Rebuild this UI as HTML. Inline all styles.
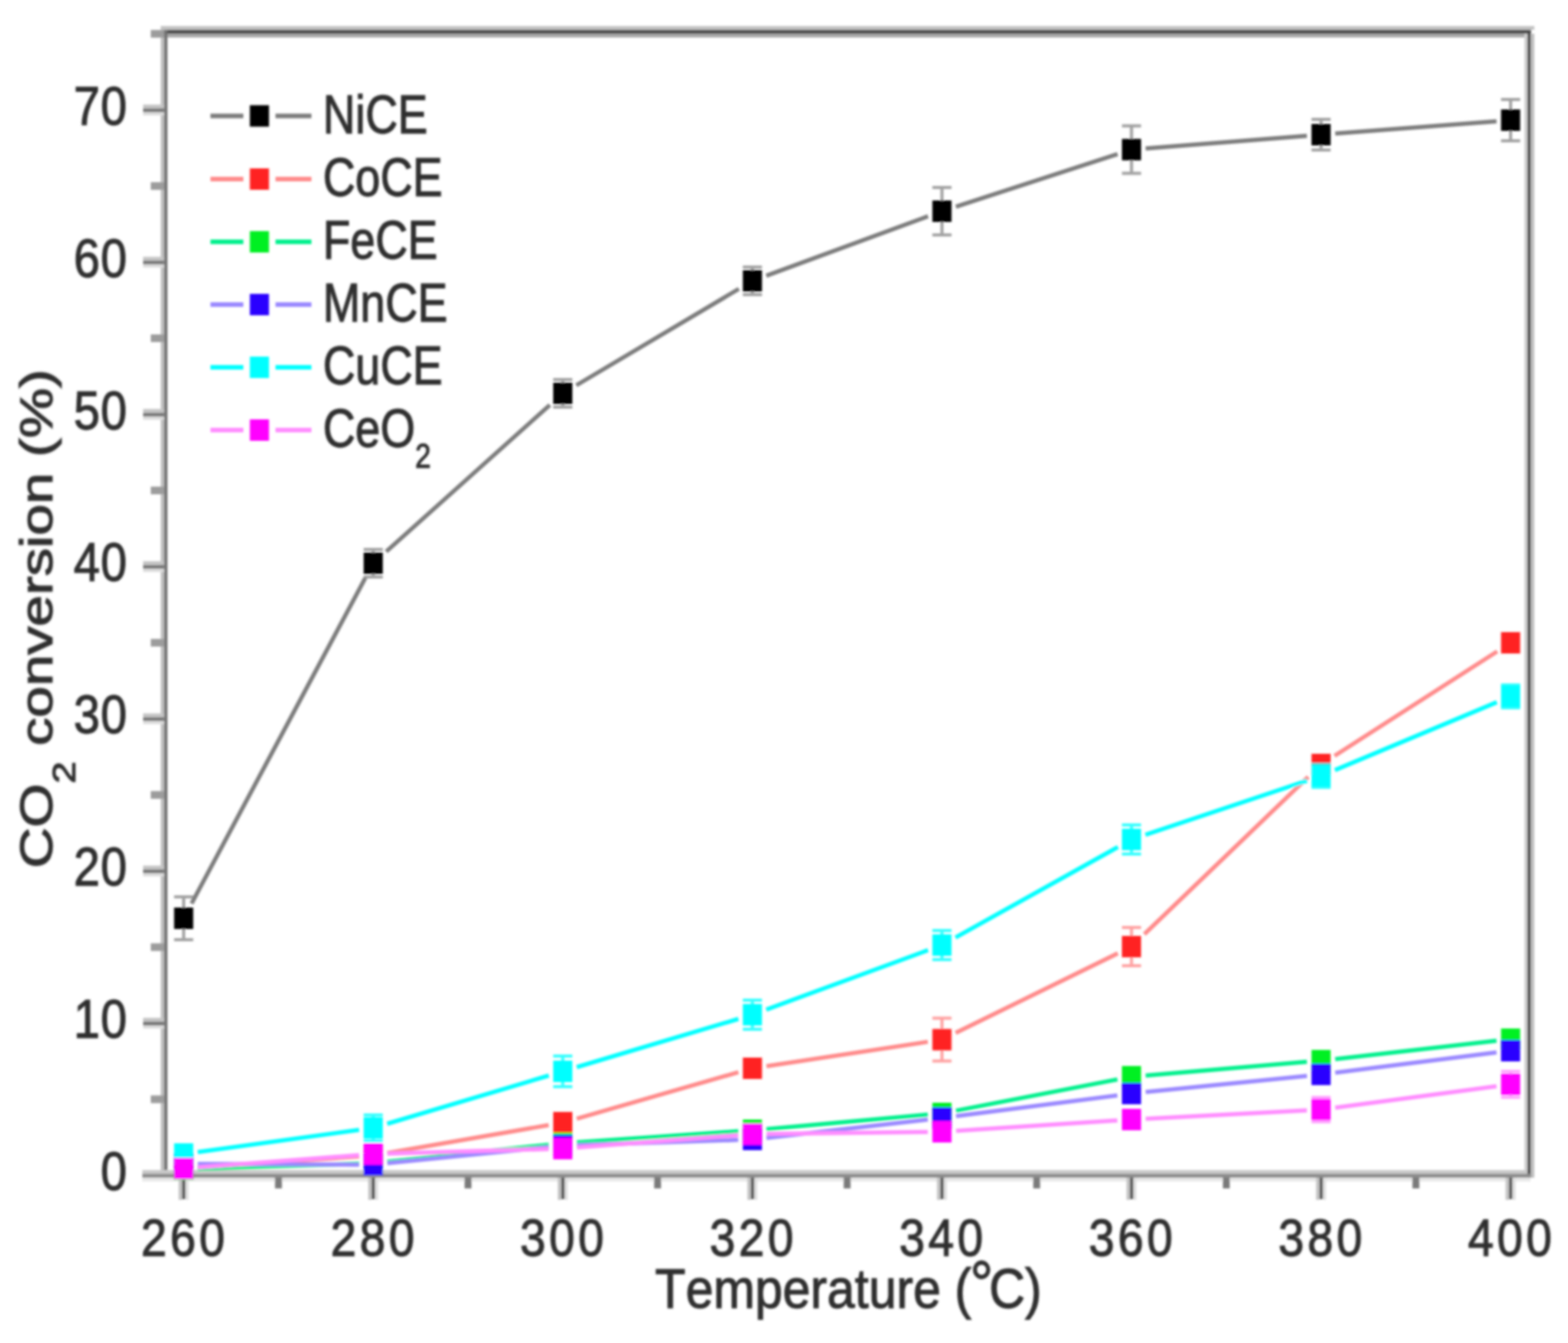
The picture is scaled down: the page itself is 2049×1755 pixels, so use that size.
<!DOCTYPE html>
<html><head><meta charset="utf-8"><title>CO2 conversion vs temperature</title>
<style>
html,body{margin:0;padding:0;background:#fff;}
body{width:2049px;height:1755px;overflow:hidden;}
svg{display:block;}
text{font-family:"Liberation Sans", Arial, Helvetica, sans-serif;fill:#2e2e2e;stroke:#2e2e2e;stroke-width:1.3px;font-kerning:none;}
</style></head><body>
<svg width="2049" height="1755" viewBox="0 0 2049 1755">
<defs><filter id="soft" x="-2%" y="-2%" width="104%" height="104%"><feGaussianBlur stdDeviation="1.5"/></filter></defs>
<rect x="0" y="0" width="2049" height="1755" fill="#ffffff"/>
<g filter="url(#soft)">
<rect x="210.0" y="34.0" width="1795.0" height="5.0" fill="#c2c2c2"/>
<rect x="210.0" y="39.0" width="1790.5" height="5.0" fill="#4a4a4a"/>
<rect x="214.0" y="44.0" width="1782.0" height="5.0" fill="#a8a8a8"/>
<rect x="1992.0" y="44.0" width="4.0" height="1490.0" fill="#d0d0d0"/>
<rect x="1996.0" y="39.0" width="4.5" height="1500.0" fill="#4a4a4a"/>
<rect x="2000.5" y="44.0" width="4.5" height="1495.0" fill="#c0c0c0"/>
<rect x="210.0" y="39.0" width="4.4" height="1495.0" fill="#c0c0c0"/>
<rect x="214.4" y="39.0" width="4.4" height="1500.0" fill="#707070"/>
<rect x="186.0" y="1529.0" width="1810.0" height="5.0" fill="#c8c8c8"/>
<rect x="186.0" y="1534.0" width="1814.5" height="5.0" fill="#8c8c8c"/>
<rect x="186.0" y="1539.0" width="1814.0" height="5.0" fill="#e8e8e8"/>
<rect x="197.0" y="1431.5" width="17.4" height="10.0" fill="#9c9c9c"/>
<rect x="187.0" y="1330.1" width="27.4" height="5.0" fill="#c4c4c4"/>
<rect x="187.0" y="1335.1" width="27.4" height="5.0" fill="#767676"/>
<rect x="187.0" y="1340.1" width="27.4" height="4.0" fill="#dcdcdc"/>
<rect x="197.0" y="1232.7" width="17.4" height="10.0" fill="#9c9c9c"/>
<rect x="187.0" y="1131.2" width="27.4" height="5.0" fill="#c4c4c4"/>
<rect x="187.0" y="1136.2" width="27.4" height="5.0" fill="#767676"/>
<rect x="187.0" y="1141.2" width="27.4" height="4.0" fill="#dcdcdc"/>
<rect x="197.0" y="1033.8" width="17.4" height="10.0" fill="#9c9c9c"/>
<rect x="187.0" y="932.3" width="27.4" height="5.0" fill="#c4c4c4"/>
<rect x="187.0" y="937.3" width="27.4" height="5.0" fill="#767676"/>
<rect x="187.0" y="942.3" width="27.4" height="4.0" fill="#dcdcdc"/>
<rect x="197.0" y="834.9" width="17.4" height="10.0" fill="#9c9c9c"/>
<rect x="187.0" y="733.4" width="27.4" height="5.0" fill="#c4c4c4"/>
<rect x="187.0" y="738.4" width="27.4" height="5.0" fill="#767676"/>
<rect x="187.0" y="743.4" width="27.4" height="4.0" fill="#dcdcdc"/>
<rect x="197.0" y="635.9" width="17.4" height="10.0" fill="#9c9c9c"/>
<rect x="187.0" y="534.5" width="27.4" height="5.0" fill="#c4c4c4"/>
<rect x="187.0" y="539.5" width="27.4" height="5.0" fill="#767676"/>
<rect x="187.0" y="544.5" width="27.4" height="4.0" fill="#dcdcdc"/>
<rect x="197.0" y="437.0" width="17.4" height="10.0" fill="#9c9c9c"/>
<rect x="187.0" y="335.6" width="27.4" height="5.0" fill="#c4c4c4"/>
<rect x="187.0" y="340.6" width="27.4" height="5.0" fill="#767676"/>
<rect x="187.0" y="345.6" width="27.4" height="4.0" fill="#dcdcdc"/>
<rect x="197.0" y="238.1" width="17.4" height="10.0" fill="#9c9c9c"/>
<rect x="187.0" y="136.7" width="27.4" height="5.0" fill="#c4c4c4"/>
<rect x="187.0" y="141.7" width="27.4" height="5.0" fill="#767676"/>
<rect x="187.0" y="146.7" width="27.4" height="4.0" fill="#dcdcdc"/>
<rect x="197.0" y="39.2" width="17.4" height="10.0" fill="#9c9c9c"/>
<rect x="233.5" y="1539.0" width="4.5" height="29.0" fill="#c4c4c4"/>
<rect x="238.0" y="1539.0" width="4.5" height="28.0" fill="#555555"/>
<rect x="242.5" y="1539.0" width="4.0" height="29.0" fill="#e0e0e0"/>
<rect x="359.4" y="1539.0" width="9.0" height="14.0" fill="#7a7a7a"/>
<rect x="481.2" y="1539.0" width="4.5" height="29.0" fill="#c4c4c4"/>
<rect x="485.7" y="1539.0" width="4.5" height="28.0" fill="#555555"/>
<rect x="490.2" y="1539.0" width="4.0" height="29.0" fill="#e0e0e0"/>
<rect x="607.1" y="1539.0" width="9.0" height="14.0" fill="#7a7a7a"/>
<rect x="728.9" y="1539.0" width="4.5" height="29.0" fill="#c4c4c4"/>
<rect x="733.4" y="1539.0" width="4.5" height="28.0" fill="#555555"/>
<rect x="737.9" y="1539.0" width="4.0" height="29.0" fill="#e0e0e0"/>
<rect x="854.8" y="1539.0" width="9.0" height="14.0" fill="#7a7a7a"/>
<rect x="976.7" y="1539.0" width="4.5" height="29.0" fill="#c4c4c4"/>
<rect x="981.2" y="1539.0" width="4.5" height="28.0" fill="#555555"/>
<rect x="985.7" y="1539.0" width="4.0" height="29.0" fill="#e0e0e0"/>
<rect x="1102.5" y="1539.0" width="9.0" height="14.0" fill="#7a7a7a"/>
<rect x="1224.4" y="1539.0" width="4.5" height="29.0" fill="#c4c4c4"/>
<rect x="1228.9" y="1539.0" width="4.5" height="28.0" fill="#555555"/>
<rect x="1233.4" y="1539.0" width="4.0" height="29.0" fill="#e0e0e0"/>
<rect x="1350.2" y="1539.0" width="9.0" height="14.0" fill="#7a7a7a"/>
<rect x="1472.1" y="1539.0" width="4.5" height="29.0" fill="#c4c4c4"/>
<rect x="1476.6" y="1539.0" width="4.5" height="28.0" fill="#555555"/>
<rect x="1481.1" y="1539.0" width="4.0" height="29.0" fill="#e0e0e0"/>
<rect x="1598.0" y="1539.0" width="9.0" height="14.0" fill="#7a7a7a"/>
<rect x="1719.8" y="1539.0" width="4.5" height="29.0" fill="#c4c4c4"/>
<rect x="1724.3" y="1539.0" width="4.5" height="28.0" fill="#555555"/>
<rect x="1728.8" y="1539.0" width="4.0" height="29.0" fill="#e0e0e0"/>
<rect x="1845.7" y="1539.0" width="9.0" height="14.0" fill="#7a7a7a"/>
<rect x="1967.5" y="1539.0" width="4.5" height="29.0" fill="#c4c4c4"/>
<rect x="1972.0" y="1539.0" width="4.5" height="28.0" fill="#555555"/>
<rect x="1976.5" y="1539.0" width="4.0" height="29.0" fill="#e0e0e0"/>
<path d="M250.3 1180.7L477.4 755.3M504.7 720.8L718.5 529.2M753.1 503.5L965.5 377.5M1001.3 360.3L1212.7 282.7M1249.1 270.1L1460.4 201.4M1497.1 194.0L1707.8 177.5M1744.8 174.6L1955.6 158.4" fill="none" stroke="#7c7c7c" stroke-width="5.5" stroke-linecap="butt"/>
<path d="M258.5 1525.7L469.2 1511.3M506.1 1506.8L717.0 1470.2M753.7 1461.8L964.9 1401.2M1001.6 1393.2L1212.4 1361.4M1248.8 1349.8L1460.7 1245.8M1495.4 1220.8L1709.5 1015.2M1743.9 987.7L1956.5 851.3" fill="none" stroke="#ff8a8a" stroke-width="5.5" stroke-linecap="butt"/>
<path d="M258.5 1527.4L469.2 1520.6M506.2 1518.1L717.0 1495.9M753.9 1492.7L964.7 1478.3M1001.6 1475.4L1212.4 1456.6M1249.3 1451.4L1460.2 1410.6M1497.1 1405.4L1707.8 1387.6M1744.8 1383.9L1955.6 1360.1" fill="none" stroke="#00f08c" stroke-width="5.5" stroke-linecap="butt"/>
<path d="M258.5 1521.1L469.2 1521.9M506.2 1520.1L717.0 1498.9M753.9 1496.4L964.7 1489.6M1001.6 1486.9L1212.4 1463.1M1249.3 1458.6L1460.1 1431.4M1497.1 1427.1L1707.9 1405.9M1744.8 1401.7L1955.6 1375.3" fill="none" stroke="#9a88ff" stroke-width="5.5" stroke-linecap="butt"/>
<path d="M258.4 1505.5L469.3 1476.5M506.0 1468.5L717.2 1405.5M753.7 1394.5L964.9 1331.5M1001.3 1319.3L1212.7 1241.7M1248.6 1225.1L1460.9 1106.9M1496.8 1090.9L1708.1 1020.1M1744.4 1006.4L1956.0 917.6" fill="none" stroke="#00ffff" stroke-width="5.5" stroke-linecap="butt"/>
<path d="M258.5 1525.6L469.2 1509.4M506.2 1507.5L716.9 1501.5M753.9 1499.6L964.7 1483.4M1001.7 1481.8L1212.4 1479.2M1249.4 1477.8L1460.1 1464.2M1497.1 1462.0L1707.8 1451.0M1744.8 1447.5L1955.6 1419.5" fill="none" stroke="#ff8cff" stroke-width="5.5" stroke-linecap="butt"/>
<path d="M240.0 1172.0V1186.0M240.0 1214.0V1228.0M227.5 1172.0H252.5M227.5 1228.0H252.5" stroke="#8a8a8a" stroke-width="4" fill="none" opacity="0.8"/>
<rect x="227.5" y="1186.0" width="25.0" height="28.0" fill="#000000"/>
<path d="M487.7 718.0V722.0M487.7 750.0V754.0M475.2 718.0H500.2M475.2 754.0H500.2" stroke="#8a8a8a" stroke-width="4" fill="none" opacity="0.8"/>
<rect x="475.2" y="722.0" width="25.0" height="28.0" fill="#000000"/>
<path d="M735.4 496.0V500.0M735.4 528.0V532.0M722.9 496.0H747.9M722.9 532.0H747.9" stroke="#8a8a8a" stroke-width="4" fill="none" opacity="0.8"/>
<rect x="722.9" y="500.0" width="25.0" height="28.0" fill="#000000"/>
<path d="M983.2 349.0V353.0M983.2 381.0V385.0M970.7 349.0H995.7M970.7 385.0H995.7" stroke="#8a8a8a" stroke-width="4" fill="none" opacity="0.8"/>
<rect x="970.7" y="353.0" width="25.0" height="28.0" fill="#000000"/>
<path d="M1230.9 245.0V262.0M1230.9 290.0V307.0M1218.4 245.0H1243.4M1218.4 307.0H1243.4" stroke="#8a8a8a" stroke-width="4" fill="none" opacity="0.8"/>
<rect x="1218.4" y="262.0" width="25.0" height="28.0" fill="#000000"/>
<path d="M1478.6 164.5V181.5M1478.6 209.5V226.5M1466.1 164.5H1491.1M1466.1 226.5H1491.1" stroke="#8a8a8a" stroke-width="4" fill="none" opacity="0.8"/>
<rect x="1466.1" y="181.5" width="25.0" height="28.0" fill="#000000"/>
<path d="M1726.3 156.0V162.0M1726.3 190.0V196.0M1713.8 156.0H1738.8M1713.8 196.0H1738.8" stroke="#8a8a8a" stroke-width="4" fill="none" opacity="0.8"/>
<rect x="1713.8" y="162.0" width="25.0" height="28.0" fill="#000000"/>
<path d="M1974.0 130.0V143.0M1974.0 171.0V184.0M1961.5 130.0H1986.5M1961.5 184.0H1986.5" stroke="#8a8a8a" stroke-width="4" fill="none" opacity="0.8"/>
<rect x="1961.5" y="143.0" width="25.0" height="28.0" fill="#000000"/>
<rect x="227.5" y="1513.0" width="25.0" height="28.0" fill="#ff2020"/>
<rect x="475.2" y="1496.0" width="25.0" height="28.0" fill="#ff2020"/>
<rect x="722.9" y="1453.0" width="25.0" height="28.0" fill="#ff2020"/>
<rect x="970.7" y="1382.0" width="25.0" height="28.0" fill="#ff2020"/>
<path d="M1230.9 1330.6V1344.6M1230.9 1372.6V1386.6M1218.4 1330.6H1243.4M1218.4 1386.6H1243.4" stroke="#ff8a8a" stroke-width="4" fill="none" opacity="0.8"/>
<rect x="1218.4" y="1344.6" width="25.0" height="28.0" fill="#ff2020"/>
<path d="M1478.6 1212.0V1223.0M1478.6 1251.0V1262.0M1466.1 1212.0H1491.1M1466.1 1262.0H1491.1" stroke="#ff8a8a" stroke-width="4" fill="none" opacity="0.8"/>
<rect x="1466.1" y="1223.0" width="25.0" height="28.0" fill="#ff2020"/>
<rect x="1713.8" y="985.0" width="25.0" height="28.0" fill="#ff2020"/>
<rect x="1961.5" y="826.0" width="25.0" height="28.0" fill="#ff2020"/>
<rect x="227.5" y="1514.0" width="25.0" height="28.0" fill="#00f020"/>
<rect x="475.2" y="1506.0" width="25.0" height="28.0" fill="#00f020"/>
<rect x="722.9" y="1480.0" width="25.0" height="28.0" fill="#00f020"/>
<rect x="970.7" y="1463.0" width="25.0" height="28.0" fill="#00f020"/>
<rect x="1218.4" y="1441.0" width="25.0" height="28.0" fill="#00f020"/>
<rect x="1466.1" y="1393.0" width="25.0" height="28.0" fill="#00f020"/>
<rect x="1713.8" y="1372.0" width="25.0" height="28.0" fill="#00f020"/>
<rect x="1961.5" y="1344.0" width="25.0" height="28.0" fill="#00f020"/>
<rect x="227.5" y="1507.0" width="25.0" height="28.0" fill="#2a00ff"/>
<rect x="475.2" y="1508.0" width="25.0" height="28.0" fill="#2a00ff"/>
<rect x="722.9" y="1483.0" width="25.0" height="28.0" fill="#2a00ff"/>
<rect x="970.7" y="1475.0" width="25.0" height="28.0" fill="#2a00ff"/>
<rect x="1218.4" y="1447.0" width="25.0" height="28.0" fill="#2a00ff"/>
<rect x="1466.1" y="1415.0" width="25.0" height="28.0" fill="#2a00ff"/>
<rect x="1713.8" y="1390.0" width="25.0" height="28.0" fill="#2a00ff"/>
<rect x="1961.5" y="1359.0" width="25.0" height="28.0" fill="#2a00ff"/>
<rect x="227.5" y="1494.0" width="25.0" height="28.0" fill="#00ffff"/>
<path d="M487.7 1457.0V1460.0M487.7 1488.0V1491.0M475.2 1457.0H500.2M475.2 1491.0H500.2" stroke="#00ffff" stroke-width="4" fill="none" opacity="0.8"/>
<rect x="475.2" y="1460.0" width="25.0" height="28.0" fill="#00ffff"/>
<path d="M735.4 1380.0V1386.0M735.4 1414.0V1420.0M722.9 1380.0H747.9M722.9 1420.0H747.9" stroke="#00ffff" stroke-width="4" fill="none" opacity="0.8"/>
<rect x="722.9" y="1386.0" width="25.0" height="28.0" fill="#00ffff"/>
<path d="M983.2 1307.0V1312.0M983.2 1340.0V1345.0M970.7 1307.0H995.7M970.7 1345.0H995.7" stroke="#00ffff" stroke-width="4" fill="none" opacity="0.8"/>
<rect x="970.7" y="1312.0" width="25.0" height="28.0" fill="#00ffff"/>
<path d="M1230.9 1216.0V1221.0M1230.9 1249.0V1254.0M1218.4 1216.0H1243.4M1218.4 1254.0H1243.4" stroke="#00ffff" stroke-width="4" fill="none" opacity="0.8"/>
<rect x="1218.4" y="1221.0" width="25.0" height="28.0" fill="#00ffff"/>
<path d="M1478.6 1078.0V1083.0M1478.6 1111.0V1116.0M1466.1 1078.0H1491.1M1466.1 1116.0H1491.1" stroke="#00ffff" stroke-width="4" fill="none" opacity="0.8"/>
<rect x="1466.1" y="1083.0" width="25.0" height="28.0" fill="#00ffff"/>
<path d="M1726.3 999.0V1000.0M1726.3 1028.0V1029.0M1713.8 999.0H1738.8M1713.8 1029.0H1738.8" stroke="#00ffff" stroke-width="4" fill="none" opacity="0.8"/>
<rect x="1713.8" y="1000.0" width="25.0" height="28.0" fill="#00ffff"/>
<path d="M1974.0 895.0V896.0M1974.0 924.0V925.0M1961.5 895.0H1986.5M1961.5 925.0H1986.5" stroke="#00ffff" stroke-width="4" fill="none" opacity="0.8"/>
<rect x="1961.5" y="896.0" width="25.0" height="28.0" fill="#00ffff"/>
<rect x="227.5" y="1513.0" width="25.0" height="28.0" fill="#ff00ff"/>
<rect x="475.2" y="1494.0" width="25.0" height="28.0" fill="#ff00ff"/>
<rect x="722.9" y="1487.0" width="25.0" height="28.0" fill="#ff00ff"/>
<rect x="970.7" y="1468.0" width="25.0" height="28.0" fill="#ff00ff"/>
<rect x="1218.4" y="1465.0" width="25.0" height="28.0" fill="#ff00ff"/>
<rect x="1466.1" y="1449.0" width="25.0" height="28.0" fill="#ff00ff"/>
<path d="M1726.3 1434.0V1436.0M1726.3 1464.0V1466.0M1713.8 1434.0H1738.8M1713.8 1466.0H1738.8" stroke="#ff8cff" stroke-width="4" fill="none" opacity="0.8"/>
<rect x="1713.8" y="1436.0" width="25.0" height="28.0" fill="#ff00ff"/>
<path d="M1974.0 1400.0V1403.0M1974.0 1431.0V1434.0M1961.5 1400.0H1986.5M1961.5 1434.0H1986.5" stroke="#ff8cff" stroke-width="4" fill="none" opacity="0.8"/>
<rect x="1961.5" y="1403.0" width="25.0" height="28.0" fill="#ff00ff"/>
<text transform="translate(167.0 1555.0) scale(0.870 1)" text-anchor="end" font-size="71" letter-spacing="1.2">0</text>
<text transform="translate(167.0 1356.1) scale(0.870 1)" text-anchor="end" font-size="71" letter-spacing="1.2">10</text>
<text transform="translate(167.0 1157.2) scale(0.870 1)" text-anchor="end" font-size="71" letter-spacing="1.2">20</text>
<text transform="translate(167.0 958.3) scale(0.870 1)" text-anchor="end" font-size="71" letter-spacing="1.2">30</text>
<text transform="translate(167.0 759.4) scale(0.870 1)" text-anchor="end" font-size="71" letter-spacing="1.2">40</text>
<text transform="translate(167.0 560.5) scale(0.870 1)" text-anchor="end" font-size="71" letter-spacing="1.2">50</text>
<text transform="translate(167.0 361.6) scale(0.870 1)" text-anchor="end" font-size="71" letter-spacing="1.2">60</text>
<text transform="translate(167.0 162.7) scale(0.870 1)" text-anchor="end" font-size="71" letter-spacing="1.2">70</text>
<text transform="translate(241.2 1641) scale(0.890 1)" text-anchor="middle" font-size="68" letter-spacing="4.9">260</text>
<text transform="translate(488.9 1641) scale(0.890 1)" text-anchor="middle" font-size="68" letter-spacing="4.9">280</text>
<text transform="translate(736.6 1641) scale(0.890 1)" text-anchor="middle" font-size="68" letter-spacing="4.9">300</text>
<text transform="translate(984.3 1641) scale(0.890 1)" text-anchor="middle" font-size="68" letter-spacing="4.9">320</text>
<text transform="translate(1232.1 1641) scale(0.890 1)" text-anchor="middle" font-size="68" letter-spacing="4.9">340</text>
<text transform="translate(1479.8 1641) scale(0.890 1)" text-anchor="middle" font-size="68" letter-spacing="4.9">360</text>
<text transform="translate(1727.5 1641) scale(0.890 1)" text-anchor="middle" font-size="68" letter-spacing="4.9">380</text>
<text transform="translate(1975.2 1641) scale(0.890 1)" text-anchor="middle" font-size="68" letter-spacing="4.9">400</text>
<text transform="translate(1108.7 1709) scale(0.906 1)" text-anchor="middle" font-size="72">Temperature (<tspan font-size="84" dy="-3.5" dx="-2">°</tspan><tspan dy="3.5" dx="-6">C)</tspan></text>
<text transform="translate(68 808.5) rotate(-90) scale(1.23 1)" text-anchor="middle" font-size="60">CO<tspan font-size="42" dy="30">2</tspan><tspan dy="-30"> conversion (%)</tspan></text>
<rect x="275.0" y="148.5" width="43.0" height="6.0" fill="#7c7c7c"/>
<rect x="360.0" y="148.5" width="47.0" height="6.0" fill="#7c7c7c"/>
<rect x="326.5" y="137.5" width="25.0" height="28.0" fill="#000000"/>
<text transform="translate(422 173.5) scale(0.838 1)" font-size="70">NiCE</text>
<rect x="275.0" y="231.0" width="43.0" height="6.0" fill="#ff8a8a"/>
<rect x="360.0" y="231.0" width="47.0" height="6.0" fill="#ff8a8a"/>
<rect x="326.5" y="220.0" width="25.0" height="28.0" fill="#ff2020"/>
<text transform="translate(422 256.0) scale(0.838 1)" font-size="70">CoCE</text>
<rect x="275.0" y="313.0" width="43.0" height="6.0" fill="#00f08c"/>
<rect x="360.0" y="313.0" width="47.0" height="6.0" fill="#00f08c"/>
<rect x="326.5" y="302.0" width="25.0" height="28.0" fill="#00f020"/>
<text transform="translate(422 338.0) scale(0.838 1)" font-size="70">FeCE</text>
<rect x="275.0" y="395.0" width="43.0" height="6.0" fill="#9a88ff"/>
<rect x="360.0" y="395.0" width="47.0" height="6.0" fill="#9a88ff"/>
<rect x="326.5" y="384.0" width="25.0" height="28.0" fill="#2a00ff"/>
<text transform="translate(422 420.0) scale(0.838 1)" font-size="70">MnCE</text>
<rect x="275.0" y="477.0" width="43.0" height="6.0" fill="#00ffff"/>
<rect x="360.0" y="477.0" width="47.0" height="6.0" fill="#00ffff"/>
<rect x="326.5" y="466.0" width="25.0" height="28.0" fill="#00ffff"/>
<text transform="translate(422 502.0) scale(0.838 1)" font-size="70">CuCE</text>
<rect x="275.0" y="559.0" width="43.0" height="6.0" fill="#ff8cff"/>
<rect x="360.0" y="559.0" width="47.0" height="6.0" fill="#ff8cff"/>
<rect x="326.5" y="548.0" width="25.0" height="28.0" fill="#ff00ff"/>
<text transform="translate(422 584.0) scale(0.838 1)" font-size="70">CeO<tspan font-size="44" dy="27">2</tspan></text>
</g>
</svg>
</body></html>
